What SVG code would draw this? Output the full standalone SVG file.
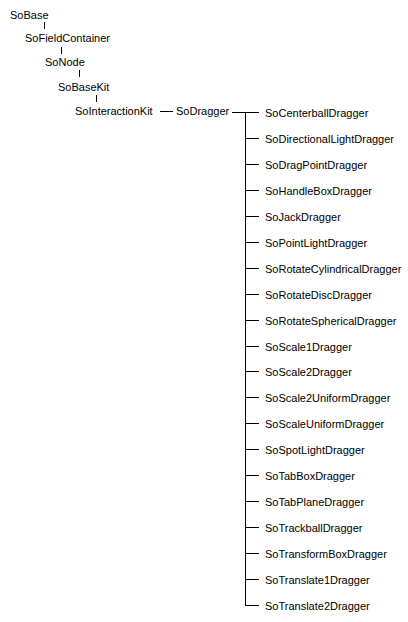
<svg xmlns="http://www.w3.org/2000/svg" width="408" height="622" viewBox="0 0 408 622">
<style>
text{font-family:"Liberation Sans",Arial,sans-serif;font-size:11px;fill:#000}
.c line,.c path{stroke:#000;stroke-width:1;fill:none;shape-rendering:crispEdges}
</style>
<rect width="408" height="622" fill="#fff"/>
<g class="c" id="connectors">
<line x1="44.5" y1="22" x2="44.5" y2="29"/>
<line x1="61.5" y1="47" x2="61.5" y2="54"/>
<line x1="79.5" y1="70" x2="79.5" y2="77"/>
<line x1="96.5" y1="95" x2="96.5" y2="102"/>
<line x1="160" y1="111.5" x2="173" y2="111.5"/>
<line x1="232" y1="112.5" x2="246" y2="112.5"/>
<line x1="245.5" y1="112" x2="245.5" y2="606"/>
<line x1="245" y1="112.5" x2="259" y2="112.5"/>
<line x1="245" y1="138.5" x2="259" y2="138.5"/>
<line x1="245" y1="164.5" x2="259" y2="164.5"/>
<line x1="245" y1="190.5" x2="259" y2="190.5"/>
<line x1="245" y1="216.5" x2="259" y2="216.5"/>
<line x1="245" y1="242.5" x2="259" y2="242.5"/>
<line x1="245" y1="268.5" x2="259" y2="268.5"/>
<line x1="245" y1="294.5" x2="259" y2="294.5"/>
<line x1="245" y1="320.5" x2="259" y2="320.5"/>
<line x1="245" y1="346.5" x2="259" y2="346.5"/>
<line x1="245" y1="371.5" x2="259" y2="371.5"/>
<line x1="245" y1="397.5" x2="259" y2="397.5"/>
<line x1="245" y1="423.5" x2="259" y2="423.5"/>
<line x1="245" y1="449.5" x2="259" y2="449.5"/>
<line x1="245" y1="475.5" x2="259" y2="475.5"/>
<line x1="245" y1="501.5" x2="259" y2="501.5"/>
<line x1="245" y1="527.5" x2="259" y2="527.5"/>
<line x1="245" y1="553.5" x2="259" y2="553.5"/>
<line x1="245" y1="579.5" x2="259" y2="579.5"/>
<line x1="245" y1="605.5" x2="259" y2="605.5"/>
</g>
<g id="SoBase"><text x="10" y="19">SoBase</text></g>
<g id="SoFieldContainer"><text x="25" y="42">SoFieldContainer</text></g>
<g id="SoNode"><text x="45" y="66">SoNode</text></g>
<g id="SoBaseKit"><text x="58" y="91">SoBaseKit</text></g>
<g id="SoInteractionKit"><text x="75" y="115">SoInteractionKit</text></g>
<g id="SoDragger"><text x="176" y="115">SoDragger</text></g>
<g id="SoCenterballDragger"><text x="265" y="117">SoCenterballDragger</text></g>
<g id="SoDirectionalLightDragger"><text x="265" y="143">SoDirectionalLightDragger</text></g>
<g id="SoDragPointDragger"><text x="265" y="169">SoDragPointDragger</text></g>
<g id="SoHandleBoxDragger"><text x="265" y="195">SoHandleBoxDragger</text></g>
<g id="SoJackDragger"><text x="265" y="221">SoJackDragger</text></g>
<g id="SoPointLightDragger"><text x="265" y="247">SoPointLightDragger</text></g>
<g id="SoRotateCylindricalDragger"><text x="265" y="273">SoRotateCylindricalDragger</text></g>
<g id="SoRotateDiscDragger"><text x="265" y="299">SoRotateDiscDragger</text></g>
<g id="SoRotateSphericalDragger"><text x="265" y="325">SoRotateSphericalDragger</text></g>
<g id="SoScale1Dragger"><text x="265" y="351">SoScale1Dragger</text></g>
<g id="SoScale2Dragger"><text x="265" y="376">SoScale2Dragger</text></g>
<g id="SoScale2UniformDragger"><text x="265" y="402">SoScale2UniformDragger</text></g>
<g id="SoScaleUniformDragger"><text x="265" y="428">SoScaleUniformDragger</text></g>
<g id="SoSpotLightDragger"><text x="265" y="454">SoSpotLightDragger</text></g>
<g id="SoTabBoxDragger"><text x="265" y="480">SoTabBoxDragger</text></g>
<g id="SoTabPlaneDragger"><text x="265" y="506">SoTabPlaneDragger</text></g>
<g id="SoTrackballDragger"><text x="265" y="532">SoTrackballDragger</text></g>
<g id="SoTransformBoxDragger"><text x="265" y="558">SoTransformBoxDragger</text></g>
<g id="SoTranslate1Dragger"><text x="265" y="584">SoTranslate1Dragger</text></g>
<g id="SoTranslate2Dragger"><text x="265" y="610">SoTranslate2Dragger</text></g>
</svg>
